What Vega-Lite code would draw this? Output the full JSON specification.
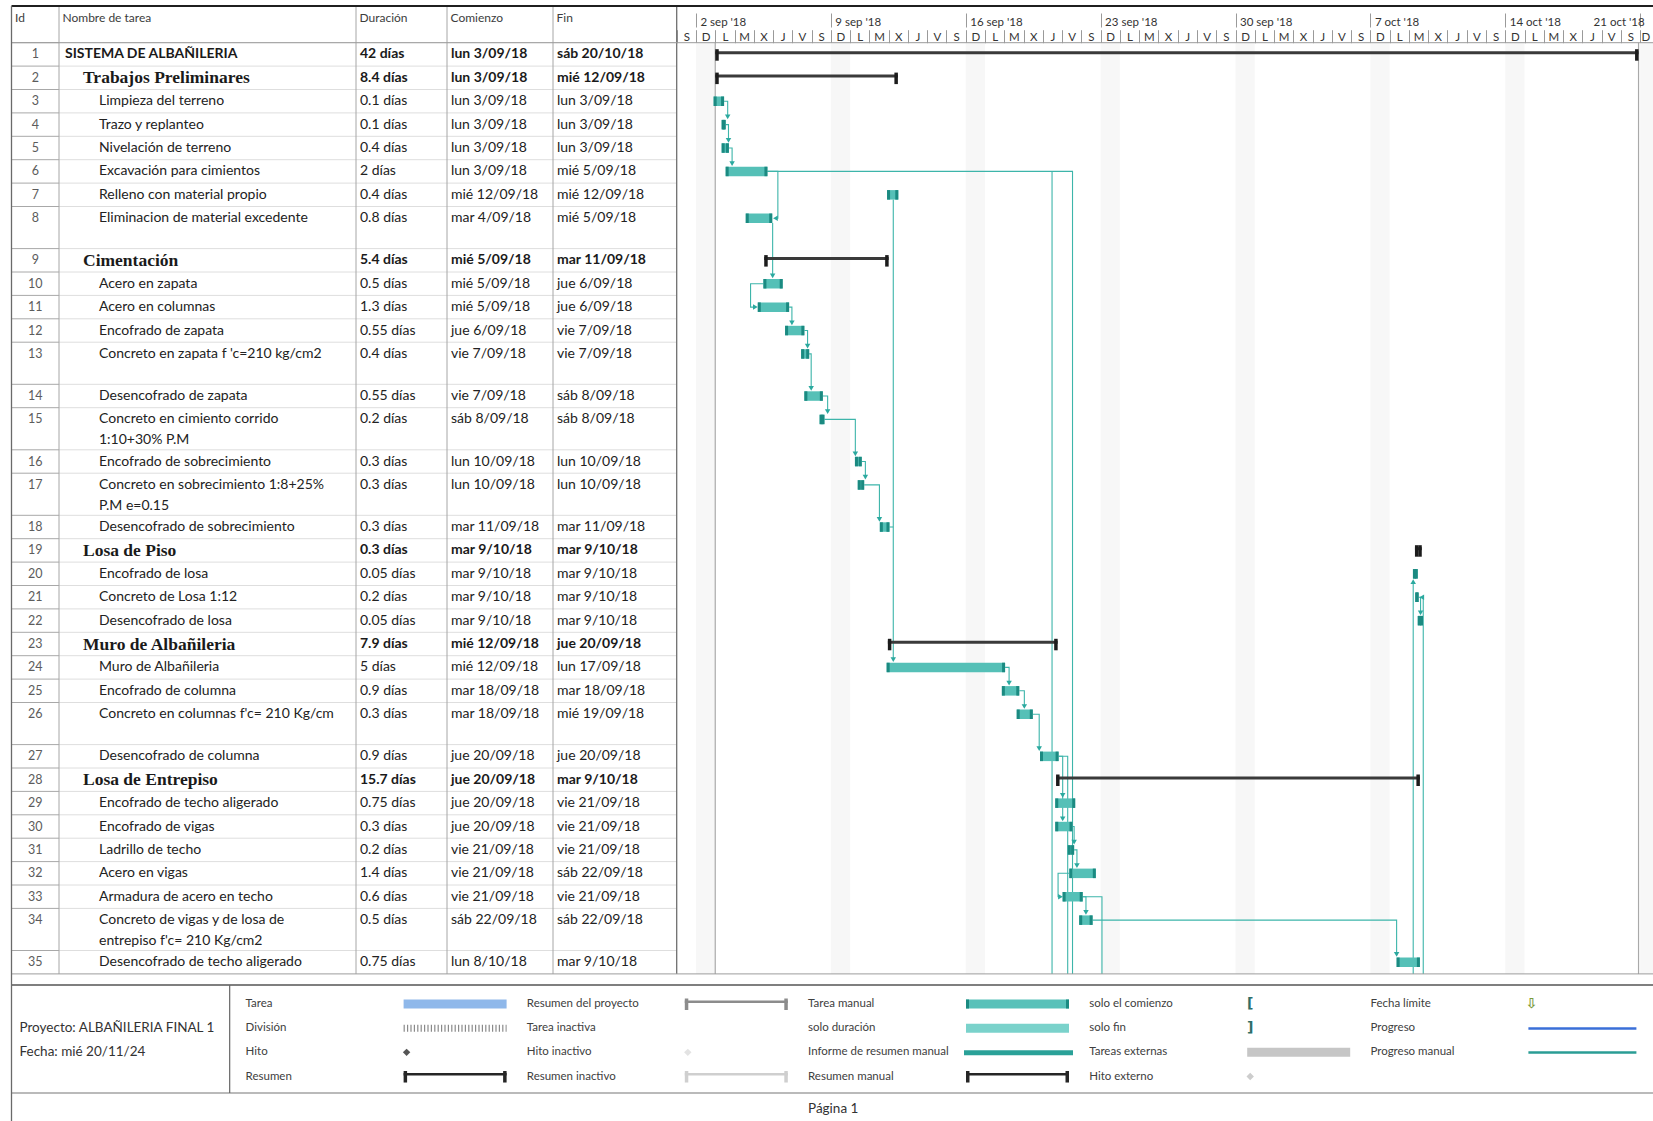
{
"$schema": "https://vega.github.io/schema/vega-lite/v6.json",
"width": 1653, "height": 1121,
"autosize": {"type": "none"},
"padding": 0,
"background": "#ffffff",
"config": {"view": {"stroke": null}, "font": "Lato",
  "locale": {"time": {"dateTime": "%A, %e de %B de %Y, %X", "date": "%d/%m/%Y", "time": "%H:%M:%S", "periods": ["AM","PM"],
    "days": ["domingo","lunes","martes","miércoles","jueves","viernes","sábado"],
    "shortDays": ["D","L","M","X","J","V","S"],
    "months": ["enero","febrero","marzo","abril","mayo","junio","julio","agosto","septiembre","octubre","noviembre","diciembre"],
    "shortMonths": ["ene","feb","mar","abr","may","jun","jul","ago","sep","oct","nov","dic"]}}},
"datasets": {
 "tasks": [
  {"Id":1,"name":"SISTEMA DE ALBAÑILERIA","dur":"42 días","st":"lun 3/09/18","en":"sáb 20/10/18","level":0,"type":"summary","s":"2018-09-03T00:00","e":"2018-10-20T22:00"},
  {"Id":2,"name":"Trabajos Preliminares","dur":"8.4 días","st":"lun 3/09/18","en":"mié 12/09/18","level":1,"type":"summary","s":"2018-09-03T00:00","e":"2018-09-12T11:30"},
  {"Id":3,"name":"Limpieza del terreno","dur":"0.1 días","st":"lun 3/09/18","en":"lun 3/09/18","level":2,"type":"task","s":"2018-09-02T22:00","e":"2018-09-03T11:00"},
  {"Id":4,"name":"Trazo y replanteo","dur":"0.1 días","st":"lun 3/09/18","en":"lun 3/09/18","level":2,"type":"task","s":"2018-09-03T08:00","e":"2018-09-03T13:00"},
  {"Id":5,"name":"Nivelación de terreno","dur":"0.4 días","st":"lun 3/09/18","en":"lun 3/09/18","level":2,"type":"task","s":"2018-09-03T08:00","e":"2018-09-03T17:00"},
  {"Id":6,"name":"Excavación para cimientos","dur":"2 días","st":"lun 3/09/18","en":"mié 5/09/18","level":2,"type":"task","s":"2018-09-03T13:00","e":"2018-09-05T17:00"},
  {"Id":7,"name":"Relleno con material propio","dur":"0.4 días","st":"mié 12/09/18","en":"mié 12/09/18","level":2,"type":"task","s":"2018-09-11T22:00","e":"2018-09-12T12:00"},
  {"Id":8,"name":"Eliminacion de material excedente","dur":"0.8 días","st":"mar 4/09/18","en":"mié 5/09/18","level":2,"type":"task","s":"2018-09-04T14:00","e":"2018-09-05T23:00"},
  {"Id":9,"name":"Cimentación","dur":"5.4 días","st":"mié 5/09/18","en":"mar 11/09/18","level":1,"type":"summary","s":"2018-09-05T13:00","e":"2018-09-12T00:00"},
  {"Id":10,"name":"Acero en zapata","dur":"0.5 días","st":"mié 5/09/18","en":"jue 6/09/18","level":2,"type":"task","s":"2018-09-05T12:00","e":"2018-09-06T12:00"},
  {"Id":11,"name":"Acero en columnas","dur":"1.3 días","st":"mié 5/09/18","en":"jue 6/09/18","level":2,"type":"task","s":"2018-09-05T05:00","e":"2018-09-06T20:00"},
  {"Id":12,"name":"Encofrado de zapata","dur":"0.55 días","st":"jue 6/09/18","en":"vie 7/09/18","level":2,"type":"task","s":"2018-09-06T15:00","e":"2018-09-07T15:00"},
  {"Id":13,"name":"Concreto en zapata f 'c=210 kg/cm2","dur":"0.4 días","st":"vie 7/09/18","en":"vie 7/09/18","level":2,"type":"task","s":"2018-09-07T11:00","e":"2018-09-07T21:00"},
  {"Id":14,"name":"Desencofrado de zapata","dur":"0.55 días","st":"vie 7/09/18","en":"sáb 8/09/18","level":2,"type":"task","s":"2018-09-07T15:00","e":"2018-09-08T14:00"},
  {"Id":15,"name":"Concreto en cimiento corrido","name2":"1:10+30% P.M","dur":"0.2 días","st":"sáb 8/09/18","en":"sáb 8/09/18","level":2,"type":"task","s":"2018-09-08T10:00","e":"2018-09-08T16:00"},
  {"Id":16,"name":"Encofrado de sobrecimiento","dur":"0.3 días","st":"lun 10/09/18","en":"lun 10/09/18","level":2,"type":"task","s":"2018-09-10T06:00","e":"2018-09-10T14:30"},
  {"Id":17,"name":"Concreto en sobrecimiento 1:8+25%","name2":"P.M e=0.15","dur":"0.3 días","st":"lun 10/09/18","en":"lun 10/09/18","level":2,"type":"task","s":"2018-09-10T09:30","e":"2018-09-10T17:30"},
  {"Id":18,"name":"Desencofrado de sobrecimiento","dur":"0.3 días","st":"mar 11/09/18","en":"mar 11/09/18","level":2,"type":"task","s":"2018-09-11T13:00","e":"2018-09-12T01:00"},
  {"Id":19,"name":"Losa de Piso","dur":"0.3 días","st":"mar 9/10/18","en":"mar 9/10/18","level":1,"type":"summary","s":"2018-10-09T07:30","e":"2018-10-09T16:00"},
  {"Id":20,"name":"Encofrado de losa","dur":"0.05 días","st":"mar 9/10/18","en":"mar 9/10/18","level":2,"type":"task","s":"2018-10-09T05:00","e":"2018-10-09T11:00"},
  {"Id":21,"name":"Concreto de Losa 1:12","dur":"0.2 días","st":"mar 9/10/18","en":"mar 9/10/18","level":2,"type":"task","s":"2018-10-09T08:00","e":"2018-10-09T12:00"},
  {"Id":22,"name":"Desencofrado de losa","dur":"0.05 días","st":"mar 9/10/18","en":"mar 9/10/18","level":2,"type":"task","s":"2018-10-09T11:00","e":"2018-10-09T17:30"},
  {"Id":23,"name":"Muro de Albañileria","dur":"7.9 días","st":"mié 12/09/18","en":"jue 20/09/18","level":1,"type":"summary","s":"2018-09-11T23:00","e":"2018-09-20T18:30"},
  {"Id":24,"name":"Muro de Albañileria","dur":"5 días","st":"mié 12/09/18","en":"lun 17/09/18","level":2,"type":"task","s":"2018-09-11T21:30","e":"2018-09-18T01:00"},
  {"Id":25,"name":"Encofrado de columna","dur":"0.9 días","st":"mar 18/09/18","en":"mar 18/09/18","level":2,"type":"task","s":"2018-09-17T21:00","e":"2018-09-18T18:40"},
  {"Id":26,"name":"Concreto en columnas f'c= 210 Kg/cm","dur":"0.3 días","st":"mar 18/09/18","en":"mié 19/09/18","level":2,"type":"task","s":"2018-09-18T15:30","e":"2018-09-19T11:30"},
  {"Id":27,"name":"Desencofrado de columna","dur":"0.9 días","st":"jue 20/09/18","en":"jue 20/09/18","level":2,"type":"task","s":"2018-09-19T20:30","e":"2018-09-20T19:40"},
  {"Id":28,"name":"Losa de Entrepiso","dur":"15.7 días","st":"jue 20/09/18","en":"mar 9/10/18","level":1,"type":"summary","s":"2018-09-20T16:30","e":"2018-10-09T13:40"},
  {"Id":29,"name":"Encofrado de techo aligerado","dur":"0.75 días","st":"jue 20/09/18","en":"vie 21/09/18","level":2,"type":"task","s":"2018-09-20T15:30","e":"2018-09-21T16:20"},
  {"Id":30,"name":"Encofrado de vigas","dur":"0.3 días","st":"jue 20/09/18","en":"vie 21/09/18","level":2,"type":"task","s":"2018-09-20T15:30","e":"2018-09-21T13:00"},
  {"Id":31,"name":"Ladrillo de techo","dur":"0.2 días","st":"vie 21/09/18","en":"vie 21/09/18","level":2,"type":"task","s":"2018-09-21T07:00","e":"2018-09-21T15:00"},
  {"Id":32,"name":"Acero en vigas","dur":"1.4 días","st":"vie 21/09/18","en":"sáb 22/09/18","level":2,"type":"task","s":"2018-09-21T09:00","e":"2018-09-22T18:00"},
  {"Id":33,"name":"Armadura de acero en techo","dur":"0.6 días","st":"vie 21/09/18","en":"vie 21/09/18","level":2,"type":"task","s":"2018-09-21T00:40","e":"2018-09-22T01:40"},
  {"Id":34,"name":"Concreto de vigas y de losa de","name2":"entrepiso f'c= 210 Kg/cm2","dur":"0.5 días","st":"sáb 22/09/18","en":"sáb 22/09/18","level":2,"type":"task","s":"2018-09-21T21:20","e":"2018-09-22T14:00"},
  {"Id":35,"name":"Desencofrado de techo aligerado","dur":"0.75 días","st":"lun 8/10/18","en":"mar 9/10/18","level":2,"type":"task","s":"2018-10-08T08:40","e":"2018-10-09T13:40"}
 ],
 "header": [{"h":"Id","c":0},{"h":"Nombre de tarea","c":1},{"h":"Duración","c":2},{"h":"Comienzo","c":3},{"h":"Fin","c":4}],
 "sundays": [
  {"s":"2018-09-02T00:00","e":"2018-09-03T00:00"},{"s":"2018-09-09T00:00","e":"2018-09-10T00:00"},
  {"s":"2018-09-16T00:00","e":"2018-09-17T00:00"},{"s":"2018-09-23T00:00","e":"2018-09-24T00:00"},
  {"s":"2018-09-30T00:00","e":"2018-10-01T00:00"},{"s":"2018-10-07T00:00","e":"2018-10-08T00:00"},
  {"s":"2018-10-14T00:00","e":"2018-10-15T00:00"},{"s":"2018-10-21T00:00","e":"2018-10-22T00:00"}
 ],
 "projlines": [{"t":"2018-09-03T00:00"},{"t":"2018-10-20T22:00"}],
 "links": [
  {"l":"L1","q":0,"t":"2018-09-03T11:00","y":3.5},{"l":"L1","q":1,"t":"2018-09-03T15:30","y":3.5},{"l":"L1","q":2,"t":"2018-09-03T15:30","y":4.17},
  {"l":"L2","q":0,"t":"2018-09-03T13:00","y":4.5},{"l":"L2","q":1,"t":"2018-09-03T16:30","y":4.5},{"l":"L2","q":2,"t":"2018-09-03T16:30","y":5.17},
  {"l":"L3","q":0,"t":"2018-09-03T17:00","y":5.5},{"l":"L3","q":1,"t":"2018-09-03T21:00","y":5.5},{"l":"L3","q":2,"t":"2018-09-03T21:00","y":6.17},
  {"l":"L4","q":0,"t":"2018-09-05T17:00","y":6.5},{"l":"L4","q":1,"t":"2018-09-06T06:00","y":6.5},{"l":"L4","q":2,"t":"2018-09-06T06:00","y":8.278},{"l":"L4","q":3,"t":"2018-09-06T03:00","y":8.278},
  {"l":"L5","q":0,"t":"2018-09-05T23:30","y":8.392},{"l":"L5","q":1,"t":"2018-09-05T23:30","y":10.17},
  {"l":"L6","q":0,"t":"2018-09-05T17:00","y":6.5},{"l":"L6","q":1,"t":"2018-09-21T13:00","y":6.5},{"l":"L6","q":2,"t":"2018-09-21T13:00","y":36},
  {"l":"L6b","q":0,"t":"2018-09-20T11:30","y":6.5},{"l":"L6b","q":1,"t":"2018-09-20T11:30","y":36},
  {"l":"L7","q":0,"t":"2018-09-05T12:00","y":10.5},{"l":"L7","q":1,"t":"2018-09-04T20:00","y":10.5},{"l":"L7","q":2,"t":"2018-09-04T20:00","y":11.5},{"l":"L7","q":3,"t":"2018-09-05T02:00","y":11.5},
  {"l":"L8","q":0,"t":"2018-09-06T20:00","y":11.5},{"l":"L8","q":1,"t":"2018-09-06T23:30","y":11.5},{"l":"L8","q":2,"t":"2018-09-06T23:30","y":12.17},
  {"l":"L9","q":0,"t":"2018-09-07T15:00","y":12.5},{"l":"L9","q":1,"t":"2018-09-07T19:00","y":12.5},{"l":"L9","q":2,"t":"2018-09-07T19:00","y":13.095},
  {"l":"L10","q":0,"t":"2018-09-07T21:00","y":13.278},{"l":"L10","q":1,"t":"2018-09-07T23:30","y":13.278},{"l":"L10","q":2,"t":"2018-09-07T23:30","y":14.17},
  {"l":"L11","q":0,"t":"2018-09-08T14:00","y":14.5},{"l":"L11","q":1,"t":"2018-09-08T20:00","y":14.5},{"l":"L11","q":2,"t":"2018-09-08T20:00","y":15.095},
  {"l":"L12","q":0,"t":"2018-09-08T16:00","y":15.278},{"l":"L12","q":1,"t":"2018-09-10T06:30","y":15.278},{"l":"L12","q":2,"t":"2018-09-10T06:30","y":16.17},
  {"l":"L13","q":0,"t":"2018-09-10T14:30","y":16.5},{"l":"L13","q":1,"t":"2018-09-10T19:00","y":16.5},{"l":"L13","q":2,"t":"2018-09-10T19:00","y":17.095},
  {"l":"L14","q":0,"t":"2018-09-10T17:30","y":17.278},{"l":"L14","q":1,"t":"2018-09-11T12:30","y":17.278},{"l":"L14","q":2,"t":"2018-09-11T12:30","y":18.17},
  {"l":"L15","q":0,"t":"2018-09-12T05:45","y":7.705},{"l":"L15","q":1,"t":"2018-09-12T05:45","y":24.17},
  {"l":"L16","q":0,"t":"2018-09-12T01:00","y":18.5},{"l":"L16","q":1,"t":"2018-09-12T05:45","y":18.5},
  {"l":"L17","q":0,"t":"2018-09-18T01:00","y":24.5},{"l":"L17","q":1,"t":"2018-09-18T06:00","y":24.5},{"l":"L17","q":2,"t":"2018-09-18T06:00","y":25.17},
  {"l":"L18","q":0,"t":"2018-09-18T18:40","y":25.5},{"l":"L18","q":1,"t":"2018-09-19T01:00","y":25.5},{"l":"L18","q":2,"t":"2018-09-19T01:00","y":26.095},
  {"l":"L19","q":0,"t":"2018-09-19T11:30","y":26.278},{"l":"L19","q":1,"t":"2018-09-19T19:30","y":26.278},{"l":"L19","q":2,"t":"2018-09-19T19:30","y":27.17},
  {"l":"L20","q":0,"t":"2018-09-20T19:40","y":27.5},{"l":"L20","q":1,"t":"2018-09-21T00:45","y":27.5},{"l":"L20","q":2,"t":"2018-09-21T00:45","y":30.17},
  {"l":"L21","q":0,"t":"2018-09-20T19:40","y":27.5},{"l":"L21","q":1,"t":"2018-09-21T07:00","y":27.5},{"l":"L21","q":2,"t":"2018-09-21T07:00","y":36},
  {"l":"L22","q":0,"t":"2018-09-21T13:00","y":30.5},{"l":"L22","q":1,"t":"2018-09-21T15:00","y":30.5},{"l":"L22","q":2,"t":"2018-09-21T15:00","y":31.17},
  {"l":"L23","q":0,"t":"2018-09-21T15:00","y":31.5},{"l":"L23","q":1,"t":"2018-09-21T18:30","y":31.5},{"l":"L23","q":2,"t":"2018-09-21T18:30","y":32.17},
  {"l":"L24","q":0,"t":"2018-09-21T09:00","y":32.5},{"l":"L24","q":1,"t":"2018-09-20T19:00","y":32.5},{"l":"L24","q":2,"t":"2018-09-20T19:00","y":33.5},{"l":"L24","q":3,"t":"2018-09-20T22:00","y":33.5},
  {"l":"L25","q":0,"t":"2018-09-22T01:40","y":33.5},{"l":"L25","q":1,"t":"2018-09-22T05:45","y":33.5},{"l":"L25","q":2,"t":"2018-09-22T05:45","y":34.095},
  {"l":"L26","q":0,"t":"2018-09-22T01:40","y":33.5},{"l":"L26","q":1,"t":"2018-09-23T01:40","y":33.5},{"l":"L26","q":2,"t":"2018-09-23T01:40","y":36},
  {"l":"L27","q":0,"t":"2018-09-22T14:00","y":34.278},{"l":"L27","q":1,"t":"2018-10-08T08:40","y":34.278},{"l":"L27","q":2,"t":"2018-10-08T08:40","y":35.17},
  {"l":"L28","q":0,"t":"2018-10-09T05:20","y":36},{"l":"L28","q":1,"t":"2018-10-09T05:20","y":20.83},
  {"l":"L29","q":0,"t":"2018-10-09T17:50","y":36},{"l":"L29","q":1,"t":"2018-10-09T17:50","y":21.5},{"l":"L29","q":2,"t":"2018-10-09T16:00","y":21.5},
  {"l":"L30","q":0,"t":"2018-10-09T12:00","y":21.5},{"l":"L30","q":1,"t":"2018-10-09T14:30","y":21.5},{"l":"L30","q":2,"t":"2018-10-09T14:30","y":22.17}
 ],
 "arrows": [
  {"t":"2018-09-03T15:30","y":4.17,"dir":"down"},{"t":"2018-09-03T16:30","y":5.17,"dir":"down"},{"t":"2018-09-03T21:00","y":6.17,"dir":"down"},
  {"t":"2018-09-06T03:00","y":8.278,"dir":"left"},{"t":"2018-09-05T23:30","y":10.17,"dir":"down"},{"t":"2018-09-05T02:00","y":11.5,"dir":"right"},
  {"t":"2018-09-06T23:30","y":12.17,"dir":"down"},{"t":"2018-09-07T19:00","y":13.095,"dir":"down"},{"t":"2018-09-07T23:30","y":14.17,"dir":"down"},
  {"t":"2018-09-08T20:00","y":15.095,"dir":"down"},{"t":"2018-09-10T06:30","y":16.17,"dir":"down"},{"t":"2018-09-10T19:00","y":17.095,"dir":"down"},
  {"t":"2018-09-11T12:30","y":18.17,"dir":"down"},{"t":"2018-09-12T05:45","y":24.17,"dir":"down"},{"t":"2018-09-18T06:00","y":25.17,"dir":"down"},
  {"t":"2018-09-19T01:00","y":26.095,"dir":"down"},{"t":"2018-09-19T19:30","y":27.17,"dir":"down"},{"t":"2018-09-21T00:45","y":29.17,"dir":"down"},
  {"t":"2018-09-21T00:45","y":30.17,"dir":"down"},{"t":"2018-09-21T15:00","y":31.17,"dir":"down"},{"t":"2018-09-21T18:30","y":32.17,"dir":"down"},
  {"t":"2018-09-20T22:00","y":33.5,"dir":"right"},{"t":"2018-09-22T05:45","y":34.095,"dir":"down"},{"t":"2018-10-08T08:40","y":35.17,"dir":"down"},
  {"t":"2018-10-09T05:20","y":20.83,"dir":"up"},{"t":"2018-10-09T16:00","y":21.5,"dir":"left"},{"t":"2018-10-09T14:30","y":22.17,"dir":"down"}
 ],
 "legend": [
  {"label":"Tarea","lc":0,"row":37,"kind":"bar"},
  {"label":"División","lc":0,"row":38,"kind":"dots"},
  {"label":"Hito","lc":0,"row":39,"kind":"diamond"},
  {"label":"Resumen","lc":0,"row":40,"kind":"bracket"},
  {"label":"Resumen del proyecto","lc":1,"row":37,"kind":"bracket"},
  {"label":"Tarea inactiva","lc":1,"row":38,"kind":"none"},
  {"label":"Hito inactivo","lc":1,"row":39,"kind":"diamond"},
  {"label":"Resumen inactivo","lc":1,"row":40,"kind":"bracket"},
  {"label":"Tarea manual","lc":2,"row":37,"kind":"manual"},
  {"label":"solo duración","lc":2,"row":38,"kind":"bar"},
  {"label":"Informe de resumen manual","lc":2,"row":39,"kind":"thick"},
  {"label":"Resumen manual","lc":2,"row":40,"kind":"bracket"},
  {"label":"solo el comienzo","lc":3,"row":37,"kind":"glyph","glyph":"["},
  {"label":"solo fin","lc":3,"row":38,"kind":"glyph","glyph":"]"},
  {"label":"Tareas externas","lc":3,"row":39,"kind":"bar"},
  {"label":"Hito externo","lc":3,"row":40,"kind":"diamond"},
  {"label":"Fecha límite","lc":4,"row":37,"kind":"glyph","glyph":"⇩"},
  {"label":"Progreso","lc":4,"row":38,"kind":"line"},
  {"label":"Progreso manual","lc":4,"row":39,"kind":"line"}
 ],
 "info": [{"t":"Proyecto: ALBAÑILERIA FINAL 1","row":38},{"t":"Fecha: mié 20/11/24","row":39}]
},
"resolve": {"scale": {"x": "independent"}},
"layer": [
 {"layer": [
  {"data":{"name":"tasks"},"mark":{"type":"rule","color":"#a8a8a8","strokeWidth":1},
   "encoding":{"x":{"datum":0,"type":"quantitative","scale":{"type":"linear","domain":[0,1,2,3,4,5],"range":[11.5,59,356,447,553,676.7],"nice":false,"zero":false},"axis":null},"x2":{"datum":1},
    "y":{"field":"Id","type":"quantitative","scale":{"type":"linear","domain":[0,1,8,9,13,14,15,16,17,18,26,27,34,35,36,36.5,37,41,41.5,42,42.5],"range":[6,42.7,206.5,248.6,342.2,384.3,407.7,449.8,473.2,515.3,702.5,744.6,908.4,950.5,973.9,985,992,1088.7,1093,1100,1121],"nice":false,"zero":false},"axis":null}}},
  {"data":{"name":"tasks"},"mark":{"type":"rule","color":"#dedede","strokeWidth":1},
   "encoding":{"x":{"datum":1,"type":"quantitative","axis":null},"x2":{"datum":5},"y":{"field":"Id","type":"quantitative","axis":null}}},
  {"data":{"name":"header"},"transform":[{"filter":"datum.c > 0"}],"mark":{"type":"rule","color":"#a6a6a6","strokeWidth":1},
   "encoding":{"x":{"field":"c","type":"quantitative","axis":null},"y":{"datum":0,"type":"quantitative","axis":null},"y2":{"datum":36}}},
  {"data":{"values":[{}]},"mark":{"type":"rule","color":"#6f6f6f","strokeWidth":1.3},
   "encoding":{"x":{"datum":5,"type":"quantitative","axis":null},"y":{"datum":0,"type":"quantitative","axis":null},"y2":{"datum":36}}},
  {"data":{"name":"header"},"mark":{"type":"text","align":"left","baseline":"middle","dx":3.5,"dy":11.5,"fontSize":12,"color":"#3c3c3c","font":"Lato"},
   "encoding":{"x":{"field":"c","type":"quantitative","axis":null},"y":{"datum":0,"type":"quantitative","axis":null},"text":{"field":"h","type":"nominal"}}},
  {"data":{"name":"tasks"},"mark":{"type":"text","align":"center","baseline":"middle","dy":11.7,"fontSize":12.5,"color":"#5c5c5c","font":"Lato"},
   "encoding":{"x":{"datum":0.5,"type":"quantitative","axis":null},"y":{"field":"Id","type":"quantitative","axis":null},"text":{"field":"Id","type":"nominal"}}},
  {"data":{"name":"tasks"},"transform":[{"filter":"datum.level == 0"}],"mark":{"type":"text","align":"left","baseline":"middle","dx":6,"dy":11.7,"fontSize":14,"fontWeight":"bold","color":"#1a1a1a","font":"Lato"},
   "encoding":{"x":{"datum":1,"type":"quantitative","axis":null},"y":{"field":"Id","type":"quantitative","axis":null},"text":{"field":"name","type":"nominal"}}},
  {"data":{"name":"tasks"},"transform":[{"filter":"datum.level == 1"}],"mark":{"type":"text","align":"left","baseline":"middle","dx":24,"dy":12.3,"fontSize":17.5,"fontWeight":"bold","color":"#1a1a1a","font":"Liberation Serif"},
   "encoding":{"x":{"datum":1,"type":"quantitative","axis":null},"y":{"field":"Id","type":"quantitative","axis":null},"text":{"field":"name","type":"nominal"}}},
  {"data":{"name":"tasks"},"transform":[{"filter":"datum.level == 2"}],"mark":{"type":"text","align":"left","baseline":"middle","dx":40,"dy":11.7,"fontSize":14,"color":"#222222","font":"Lato"},
   "encoding":{"x":{"datum":1,"type":"quantitative","axis":null},"y":{"field":"Id","type":"quantitative","axis":null},"text":{"field":"name","type":"nominal"}}},
  {"data":{"name":"tasks"},"transform":[{"filter":"isValid(datum.name2)"}],"mark":{"type":"text","align":"left","baseline":"middle","dx":40,"dy":32.7,"fontSize":14,"color":"#222222","font":"Lato"},
   "encoding":{"x":{"datum":1,"type":"quantitative","axis":null},"y":{"field":"Id","type":"quantitative","axis":null},"text":{"field":"name2","type":"nominal"}}},
  {"data":{"name":"tasks"},"transform":[{"fold":["dur","st","en"],"as":["k","v"]},{"calculate":"datum.k == 'dur' ? 2 : (datum.k == 'st' ? 3 : 4)","as":"c"},{"filter":"datum.level == 2"}],
   "mark":{"type":"text","align":"left","baseline":"middle","dx":4,"dy":11.7,"fontSize":14,"color":"#222222","font":"Lato"},
   "encoding":{"x":{"field":"c","type":"quantitative","axis":null},"y":{"field":"Id","type":"quantitative","axis":null},"text":{"field":"v","type":"nominal"}}},
  {"data":{"name":"tasks"},"transform":[{"fold":["dur","st","en"],"as":["k","v"]},{"calculate":"datum.k == 'dur' ? 2 : (datum.k == 'st' ? 3 : 4)","as":"c"},{"filter":"datum.level < 2"}],
   "mark":{"type":"text","align":"left","baseline":"middle","dx":4,"dy":11.7,"fontSize":14,"fontWeight":"bold","color":"#1a1a1a","font":"Lato"},
   "encoding":{"x":{"field":"c","type":"quantitative","axis":null},"y":{"field":"Id","type":"quantitative","axis":null},"text":{"field":"v","type":"nominal"}}}
 ]},
 {"resolve": {"axis": {"x": "independent"}},
  "layer": [
  {"data":{"name":"sundays"},"mark":{"type":"rect","color":"#f7f7f7"},
   "encoding":{"x":{"field":"s","type":"temporal","scale":{"type":"time","domain":[{"year":2018,"month":9,"date":1},{"year":2018,"month":10,"date":21,"hours":16}],"range":[676.7,1653],"nice":false},
     "axis":{"orient":"top","offset":-42.7,"format":"%a","tickCount":{"interval":"day","step":1},"labelOffset":9.6,
       "labelAlign":{"condition":{"test":"datum.value >= datetime(2018,9,20,12)","value":"right"},"value":"center"},
       "labelBaseline":"bottom","tickSize":13,"labelPadding":-13,"domain":false,"grid":false,"ticks":true,"tickColor":"#9a9a9a","labelFont":"Lato","labelFontSize":11.5,"labelColor":"#333333","labelOverlap":false,"labelFlush":false,"labelBound":false,"title":null}},
    "x2":{"field":"e"},"y":{"datum":1,"type":"quantitative","axis":null},"y2":{"datum":36}}},
  {"data":{"name":"projlines"},"mark":{"type":"rule","color":"#a9a9a9","strokeWidth":1.2},
   "encoding":{"x":{"field":"t","type":"temporal",
     "axis":{"orient":"top","offset":-27,"format":"%-d %b '%y","tickCount":{"interval":"week","step":1},"labelOffset":4,
       "labelAlign":{"condition":{"test":"datum.value >= datetime(2018,9,20,12)","value":"right"},"value":"left"},
       "labelBaseline":"bottom","tickSize":14,"labelPadding":-14.5,"domain":false,"grid":false,"ticks":true,"tickColor":"#9a9a9a","labelFont":"Lato","labelFontSize":11.5,"labelColor":"#333333","labelOverlap":false,"labelFlush":false,"labelBound":false,"title":null}},
    "y":{"datum":1,"type":"quantitative","axis":null},"y2":{"datum":36}}},
  {"data":{"name":"links"},"mark":{"type":"line","color":"#3db5aa","strokeWidth":1.1,"interpolate":"linear"},
   "encoding":{"x":{"field":"t","type":"temporal","axis":null},"y":{"field":"y","type":"quantitative","axis":null},"detail":{"field":"l","type":"nominal"},"order":{"field":"q","type":"quantitative"}}},
  {"data":{"name":"arrows"},"mark":{"type":"point","filled":true,"size":30,"opacity":1,"color":"#2ba99f"},
   "encoding":{"x":{"field":"t","type":"temporal","axis":null},"y":{"field":"y","type":"quantitative","axis":null},
    "shape":{"field":"dir","type":"nominal","scale":{"domain":["down","up","left","right"],"range":["triangle-down","triangle-up","triangle-left","triangle-right"]},"legend":null}}},
  {"data":{"name":"tasks"},"transform":[{"filter":"datum.type == 'task'"}],"mark":{"type":"rect","color":"#55c0b7","yOffset":7,"y2Offset":16.5},
   "encoding":{"x":{"field":"s","type":"temporal","axis":null},"x2":{"field":"e"},"y":{"field":"Id","type":"quantitative","axis":null},"y2":{"field":"Id"}}},
  {"data":{"name":"tasks"},"transform":[{"filter":"datum.type == 'task'"}],"mark":{"type":"rect","color":"#1b8a81","x2Offset":3,"yOffset":7,"y2Offset":16.5},
   "encoding":{"x":{"field":"s","type":"temporal","axis":null},"x2":{"field":"s"},"y":{"field":"Id","type":"quantitative","axis":null},"y2":{"field":"Id"}}},
  {"data":{"name":"tasks"},"transform":[{"filter":"datum.type == 'task'"}],"mark":{"type":"rect","color":"#1b8a81","xOffset":-3,"yOffset":7,"y2Offset":16.5},
   "encoding":{"x":{"field":"e","type":"temporal","axis":null},"x2":{"field":"e"},"y":{"field":"Id","type":"quantitative","axis":null},"y2":{"field":"Id"}}},
  {"data":{"name":"tasks"},"transform":[{"filter":"datum.type == 'summary'"}],"mark":{"type":"rect","color":"#3a3a3a","yOffset":8.5,"y2Offset":11.5},
   "encoding":{"x":{"field":"s","type":"temporal","axis":null},"x2":{"field":"e"},"y":{"field":"Id","type":"quantitative","axis":null},"y2":{"field":"Id"}}},
  {"data":{"name":"tasks"},"transform":[{"filter":"datum.type == 'summary'"}],"mark":{"type":"rect","color":"#1c1c1c","x2Offset":3.5,"yOffset":6.5,"y2Offset":18},
   "encoding":{"x":{"field":"s","type":"temporal","axis":null},"x2":{"field":"s"},"y":{"field":"Id","type":"quantitative","axis":null},"y2":{"field":"Id"}}},
  {"data":{"name":"tasks"},"transform":[{"filter":"datum.type == 'summary'"}],"mark":{"type":"rect","color":"#1c1c1c","xOffset":-3.5,"yOffset":6.5,"y2Offset":18},
   "encoding":{"x":{"field":"e","type":"temporal","axis":null},"x2":{"field":"e"},"y":{"field":"Id","type":"quantitative","axis":null},"y2":{"field":"Id"}}}
 ]},
 {"layer": [
  {"data":{"values":[{}]},"mark":{"type":"rule","color":"#1f1f1f","strokeWidth":2},
   "encoding":{"x":{"datum":-1,"type":"quantitative","scale":{"type":"linear","domain":[-1,0,4,5],"range":[11.5,245.6,1370.4,1653],"nice":false,"zero":false},"axis":null},"x2":{"datum":5},"y":{"datum":0,"type":"quantitative","axis":null}}},
  {"data":{"values":[{}]},"mark":{"type":"rule","color":"#9c9c9c","strokeWidth":1},
   "encoding":{"x":{"datum":-1,"type":"quantitative","axis":null},"x2":{"datum":5},"y":{"datum":1,"type":"quantitative","axis":null}}},
  {"data":{"values":[{}]},"mark":{"type":"rule","color":"#9c9c9c","strokeWidth":1},
   "encoding":{"x":{"datum":-1,"type":"quantitative","axis":null},"x2":{"datum":5},"y":{"datum":36,"type":"quantitative","axis":null}}},
  {"data":{"values":[{}]},"mark":{"type":"rule","color":"#555555","strokeWidth":1.3},
   "encoding":{"x":{"datum":-1,"type":"quantitative","axis":null},"x2":{"datum":5},"y":{"datum":36.5,"type":"quantitative","axis":null}}},
  {"data":{"values":[{}]},"mark":{"type":"rule","color":"#777777","strokeWidth":1.2},
   "encoding":{"x":{"datum":-1,"type":"quantitative","axis":null},"x2":{"datum":5},"y":{"datum":41.5,"type":"quantitative","axis":null}}},
  {"data":{"values":[{}]},"mark":{"type":"rule","color":"#6a6a6a","strokeWidth":1.3},
   "encoding":{"x":{"datum":-1,"type":"quantitative","axis":null},"y":{"datum":0,"type":"quantitative","axis":null},"y2":{"datum":42.5}}},
  {"data":{"values":[{}]},"mark":{"type":"rule","color":"#666666","strokeWidth":1.2},
   "encoding":{"x":{"datum":-0.068,"type":"quantitative","axis":null},"y":{"datum":36.5,"type":"quantitative","axis":null},"y2":{"datum":41.5}}},
  {"data":{"name":"info"},"mark":{"type":"text","align":"left","baseline":"middle","dx":8,"dy":12,"fontSize":13.5,"color":"#333333","font":"Lato"},
   "encoding":{"x":{"datum":-1,"type":"quantitative","axis":null},"y":{"field":"row","type":"quantitative","axis":null},"text":{"field":"t","type":"nominal"}}},
  {"data":{"values":[{}]},"mark":{"type":"text","align":"left","baseline":"middle","dy":9,"fontSize":13.5,"color":"#333333","font":"Lato"},
   "encoding":{"x":{"datum":2,"type":"quantitative","axis":null},"y":{"datum":42,"type":"quantitative","axis":null},"text":{"value":"Página 1"}}},
  {"data":{"name":"legend"},"mark":{"type":"text","align":"left","baseline":"middle","dy":12,"fontSize":11.5,"color":"#404040","font":"Lato"},
   "encoding":{"x":{"field":"lc","type":"quantitative","axis":null},"y":{"field":"row","type":"quantitative","axis":null},"text":{"field":"label","type":"nominal"}}},
  {"data":{"name":"legend"},"transform":[{"filter":"datum.kind == 'bar' || datum.kind == 'manual'"}],"mark":{"type":"rect","xOffset":158,"x2Offset":261,"yOffset":7.5,"y2Offset":16.5},
   "encoding":{"x":{"field":"lc","type":"quantitative","axis":null},"x2":{"field":"lc"},"y":{"field":"row","type":"quantitative","axis":null},"y2":{"field":"row"},
    "color":{"field":"label","type":"nominal","legend":null,"scale":{"domain":["Tarea","División","Hito","Resumen","Resumen del proyecto","Tarea inactiva","Hito inactivo","Resumen inactivo","Tarea manual","solo duración","Informe de resumen manual","Resumen manual","solo el comienzo","solo fin","Tareas externas","Hito externo","Fecha límite","Progreso","Progreso manual"],
      "range":["#8fb8ea","#8a8a8a","#555555","#262626","#8c8c8c","#efefef","#e3e3e3","#cfcfcf","#58c1b9","#7ad2cb","#2aa198","#262626","#2e6e68","#2e6e68","#c6c6c6","#cdcdcd","#7a9a3a","#3a6fd8","#2a9d95"]}}}},
  {"data":{"name":"legend"},"transform":[{"filter":"datum.kind == 'manual'"}],"mark":{"type":"rect","color":"#1b8a81","xOffset":158,"x2Offset":161,"yOffset":7.5,"y2Offset":16.5},
   "encoding":{"x":{"field":"lc","type":"quantitative","axis":null},"x2":{"field":"lc"},"y":{"field":"row","type":"quantitative","axis":null},"y2":{"field":"row"}}},
  {"data":{"name":"legend"},"transform":[{"filter":"datum.kind == 'manual'"}],"mark":{"type":"rect","color":"#1b8a81","xOffset":258,"x2Offset":261,"yOffset":7.5,"y2Offset":16.5},
   "encoding":{"x":{"field":"lc","type":"quantitative","axis":null},"x2":{"field":"lc"},"y":{"field":"row","type":"quantitative","axis":null},"y2":{"field":"row"}}},
  {"data":{"name":"legend"},"transform":[{"filter":"datum.kind == 'bracket'"}],"mark":{"type":"rect","xOffset":158,"x2Offset":261,"yOffset":8.5,"y2Offset":11},
   "encoding":{"x":{"field":"lc","type":"quantitative","axis":null},"x2":{"field":"lc"},"y":{"field":"row","type":"quantitative","axis":null},"y2":{"field":"row"},"color":{"field":"label","type":"nominal","legend":null}}},
  {"data":{"name":"legend"},"transform":[{"filter":"datum.kind == 'bracket'"}],"mark":{"type":"rect","xOffset":158,"x2Offset":161.5,"yOffset":6.5,"y2Offset":18},
   "encoding":{"x":{"field":"lc","type":"quantitative","axis":null},"x2":{"field":"lc"},"y":{"field":"row","type":"quantitative","axis":null},"y2":{"field":"row"},"color":{"field":"label","type":"nominal","legend":null}}},
  {"data":{"name":"legend"},"transform":[{"filter":"datum.kind == 'bracket'"}],"mark":{"type":"rect","xOffset":257.5,"x2Offset":261,"yOffset":6.5,"y2Offset":18},
   "encoding":{"x":{"field":"lc","type":"quantitative","axis":null},"x2":{"field":"lc"},"y":{"field":"row","type":"quantitative","axis":null},"y2":{"field":"row"},"color":{"field":"label","type":"nominal","legend":null}}},
  {"data":{"name":"legend"},"transform":[{"filter":"datum.kind == 'thick'"}],"mark":{"type":"rect","xOffset":156,"x2Offset":265,"yOffset":10,"y2Offset":15},
   "encoding":{"x":{"field":"lc","type":"quantitative","axis":null},"x2":{"field":"lc"},"y":{"field":"row","type":"quantitative","axis":null},"y2":{"field":"row"},"color":{"field":"label","type":"nominal","legend":null}}},
  {"data":{"name":"legend"},"transform":[{"filter":"datum.kind == 'line'"}],"mark":{"type":"rect","xOffset":158,"x2Offset":266,"yOffset":11,"y2Offset":13.5},
   "encoding":{"x":{"field":"lc","type":"quantitative","axis":null},"x2":{"field":"lc"},"y":{"field":"row","type":"quantitative","axis":null},"y2":{"field":"row"},"color":{"field":"label","type":"nominal","legend":null}}},
  {"data":{"name":"legend"},"transform":[{"filter":"datum.kind == 'diamond'"}],"mark":{"type":"point","shape":"diamond","filled":true,"size":55,"opacity":1,"xOffset":161,"yOffset":12},
   "encoding":{"x":{"field":"lc","type":"quantitative","axis":null},"y":{"field":"row","type":"quantitative","axis":null},"color":{"field":"label","type":"nominal","legend":null}}},
  {"data":{"name":"legend"},"transform":[{"filter":"datum.kind == 'dots'"}],"mark":{"type":"rule","xOffset":158,"x2Offset":261,"yOffset":12,"strokeDash":[1.2,2.2],"strokeWidth":7},
   "encoding":{"x":{"field":"lc","type":"quantitative","axis":null},"x2":{"field":"lc"},"y":{"field":"row","type":"quantitative","axis":null},"color":{"field":"label","type":"nominal","legend":null}}},
  {"data":{"name":"legend"},"transform":[{"filter":"datum.kind == 'glyph'"}],"mark":{"type":"text","align":"center","baseline":"middle","dx":161,"dy":12,"fontSize":14,"fontWeight":"bold","font":"DejaVu Sans"},
   "encoding":{"x":{"field":"lc","type":"quantitative","axis":null},"y":{"field":"row","type":"quantitative","axis":null},"text":{"field":"glyph","type":"nominal"},"color":{"field":"label","type":"nominal","legend":null}}}
 ]}
]
}
